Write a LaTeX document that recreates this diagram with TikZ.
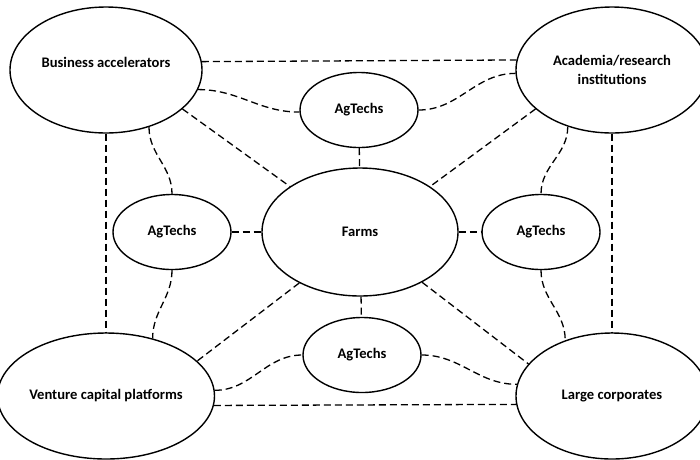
\documentclass[tikz,border=0pt]{standalone}
\usepackage{fontspec}
\setmainfont{Carlito}
\usetikzlibrary{shapes.geometric}

\begin{document}
\begin{tikzpicture}[x=1pt,y=1pt,
		actor/.style={draw,ellipse,line width=1.4pt,inner sep=0pt,minimum width=192pt,minimum height=126pt,align=center,font=\fontsize{14.6}{19}\selectfont\bfseries},
		agtech/.style={draw,ellipse,line width=1.4pt,inner sep=0pt,minimum width=118pt,minimum height=75pt,font=\fontsize{14.6}{19}\selectfont\bfseries},
		link/.style={line width=1.3pt,dash pattern=on 7pt off 4pt}]
		\useasboundingbox (0,0) rectangle (700,-459);
		\clip (0,0) rectangle (700,-459);
		\node[actor,text depth=16pt] (ba) at (106,-70) {Business accelerators};
		\node[actor] (ac) at (612,-70) {Academia/research\\institutions};
		\node[actor] (vc) at (106,-396) {Venture capital platforms};
		\node[actor] (lc) at (612,-396) {Large corporates};
		\node[actor,minimum width=196pt,minimum height=128pt] (farms) at (360,-232) {Farms};
		\node[agtech] (agt) at (359,-110) {AgTechs};
		\node[agtech] (agl) at (172,-232) {AgTechs};
		\node[agtech] (agr) at (541,-232) {AgTechs};
		\node[agtech] (agb) at (362,-355) {AgTechs};
		\draw[link] (ba.5) -- (ac.174);
		\draw[link] (ba.348) to[out=0,in=180] (agt.182);
		\draw[link] (agt.east) to[out=0,in=180] (ac.182);
		\draw[link] (ba.333) -- (farms.147);
		\draw[link] (ac.207) -- (farms.33);
		\draw[link] (agt) -- (farms);
		\draw[link] (ba) -- (vc);
		\draw[link] (ba.307) to[out=-90,in=90] (agl.north);
		\draw[link] (agl.south) to[out=-90,in=90] (vc.51);
		\draw[link] (agl) -- (farms);
		\draw[link] (farms) -- (agr);
		\draw[link] (ac.232) to[out=-90,in=90] (agr.north);
		\draw[link] (ac) -- (lc);
		\draw[link] (agr.south) to[out=-90,in=90] (lc.130);
		\draw[link] (farms.220) -- (vc.21);
		\draw[link] (farms.321) -- (lc.159);
		\draw[link] (farms) -- (agb);
		\draw[link] (vc.3) to[out=0,in=180] (agb.west);
		\draw[link] (agb.east) to[out=0,in=180] (lc.173);
		\draw[link] (vc.355) -- (lc.185);
\end{tikzpicture}
\end{document}
